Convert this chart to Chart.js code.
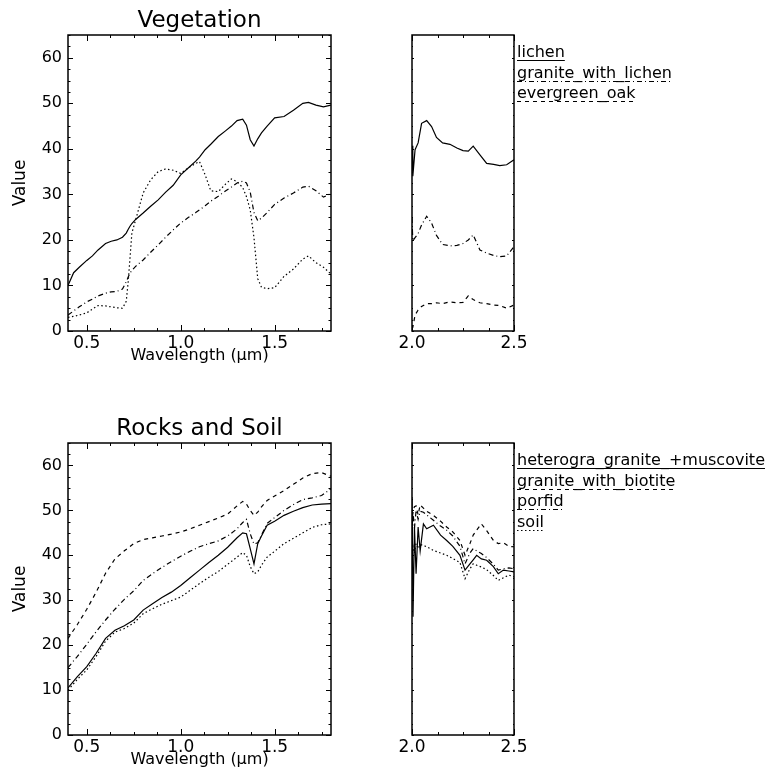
<!DOCTYPE html>
<html>
<head>
<meta charset="utf-8">
<script src="https://cdn.jsdelivr.net/npm/chart.js@4.4.1/dist/chart.umd.min.js"></script>
<style>
  html, body { margin: 0; padding: 0; background: #fff; }
  #page { position: relative; width: 781px; height: 778px; overflow: hidden; }
  canvas { position: absolute; }
</style>
</head>
<body>
<div id="page">
  <canvas id="vegVis" width="345" height="370" style="left:0;top:0"></canvas>
  <canvas id="vegSwir" width="400" height="370" style="left:380px;top:0"></canvas>
  <canvas id="rockVis" width="345" height="384" style="left:0;top:390px"></canvas>
  <canvas id="rockSwir" width="400" height="384" style="left:380px;top:390px"></canvas>
</div>
<script>
// =============================
// Data
// =============================
const visXTicks = [0.5, 1.0, 1.5];
const swirXTicks = [2.0, 2.5];
const valueTicks = [0, 10, 20, 30, 40, 50, 60];

const vegNames = ["lichen", "granite_with_lichen", "evergreen_oak"];
const rockNames = ["heterogra_granite_+muscovite", "granite_with_biotite", "porfid", "soil"];

// Vegetation, 0.4 - 1.8 um
const vegVisWl = [0.40, 0.43, 0.46, 0.50, 0.53, 0.56, 0.60, 0.63, 0.66, 0.69,
  0.71, 0.72, 0.73, 0.74, 0.76, 0.80, 0.84, 0.88, 0.92, 0.96,
  1.00, 1.04, 1.08, 1.10, 1.13, 1.16, 1.20, 1.24, 1.27, 1.30,
  1.33, 1.35, 1.37, 1.39, 1.41, 1.43, 1.46, 1.50, 1.55, 1.60,
  1.65, 1.68, 1.72, 1.76, 1.80];
const vegLichen = [10.0, 12.8, 14.0, 15.5, 16.5, 17.8, 19.2, 19.7, 20.0, 20.6,
  21.5, 22.3, 23.0, 23.6, 24.5, 25.9, 27.4, 28.8, 30.5, 32.0,
  34.3, 35.8, 37.3, 38.2, 39.8, 41.0, 42.7, 44.0, 45.0, 46.2,
  46.5, 45.2, 42.0, 40.6, 42.2, 43.5, 45.0, 46.8, 47.1, 48.5,
  50.0, 50.2, 49.6, 49.2, 49.6];
const vegGraniteLichen = [3.5, 4.4, 5.3, 6.4, 7.0, 7.7, 8.3, 8.6, 8.7, 9.2,
  10.8, 11.8, 12.7, 13.3, 14.2, 15.6, 17.3, 18.9, 20.6, 22.2,
  23.7, 24.9, 26.0, 26.6, 27.5, 28.5, 29.6, 30.8, 31.6, 32.5,
  32.9, 32.5, 30.5, 26.0, 24.2, 24.8, 26.0, 27.8, 29.2, 30.3,
  31.6, 31.8, 30.8, 29.4, 30.2];
const vegOak = [3.0, 3.2, 3.5, 4.0, 4.8, 5.6, 5.5, 5.3, 5.1, 5.0,
  6.5, 10.6, 16.0, 21.5, 24.4, 30.3, 33.2, 35.0, 35.6, 35.3,
  34.6, 35.8, 36.8, 37.2, 34.3, 30.8, 30.6, 32.3, 33.4, 32.8,
  31.5, 29.5, 26.6, 20.5, 11.5, 9.6, 9.3, 9.5, 12.0, 13.6,
  15.8, 16.5, 15.0, 14.0, 12.5];

// Vegetation, 2.0 - 2.5 um
const vegSwirWl = [2.000, 2.004, 2.015, 2.030, 2.047, 2.072, 2.096, 2.120, 2.150, 2.186,
  2.220, 2.250, 2.276, 2.300, 2.333, 2.366, 2.400, 2.430, 2.464, 2.500];
const swirLichen = [40.7, 34.0, 39.8, 41.3, 45.6, 46.2, 44.9, 42.5, 41.3, 41.0,
  40.2, 39.6, 39.5, 40.6, 38.7, 36.8, 36.6, 36.3, 36.5, 37.6];
const swirGraniteLichen = [24.8, 19.8, 20.5, 21.4, 23.3, 25.2, 23.7, 21.0, 19.0, 18.7,
  18.8, 19.2, 20.0, 21.1, 17.8, 17.1, 16.6, 16.3, 16.5, 18.5];
const swirOak = [0.5, 0.8, 3.5, 4.6, 5.4, 6.0, 6.0, 6.2, 6.0, 6.4,
  6.2, 6.3, 7.7, 6.9, 6.2, 6.0, 5.7, 5.6, 5.0, 5.7];

// Rocks and soil, 0.4 - 1.8 um
const rockVisWl = [0.40, 0.45, 0.50, 0.55, 0.60, 0.65, 0.70, 0.75, 0.80, 0.85,
  0.90, 0.95, 1.00, 1.05, 1.10, 1.15, 1.20, 1.25, 1.30, 1.33,
  1.35, 1.37, 1.39, 1.41, 1.43, 1.46, 1.50, 1.55, 1.60, 1.65,
  1.70, 1.75, 1.80];
const rockMuscovite = [10.5, 13.0, 15.2, 18.2, 21.5, 23.3, 24.3, 25.6, 27.8, 29.2,
  30.6, 31.8, 33.3, 35.0, 36.7, 38.4, 40.0, 41.8, 43.9, 45.0,
  44.8, 41.5, 38.1, 42.6, 44.3, 46.7, 47.6, 48.9, 49.8, 50.6,
  51.2, 51.4, 51.5];
const rockBiotite = [21.5, 24.6, 28.0, 31.8, 36.0, 39.2, 41.0, 42.6, 43.5, 43.9,
  44.3, 44.7, 45.2, 45.9, 46.7, 47.5, 48.3, 49.2, 51.0, 52.0,
  51.4, 50.0, 48.9, 49.6, 50.8, 52.2, 53.2, 54.4, 55.8, 57.2,
  58.2, 58.4, 57.6];
const rockPorfid = [15.0, 17.5, 20.2, 23.0, 25.6, 28.0, 30.2, 32.1, 34.4, 35.9,
  37.3, 38.6, 39.8, 40.9, 41.9, 42.6, 43.2, 44.3, 45.9, 47.3,
  48.0, 44.8, 42.5, 42.8, 44.5, 47.1, 48.4, 50.0, 51.3, 52.4,
  52.8, 53.3, 54.8];
const rockSoil = [10.0, 12.4, 14.5, 17.5, 20.9, 22.9, 23.7, 24.9, 27.0, 28.1,
  29.1, 29.9, 30.7, 32.2, 33.7, 35.1, 36.4, 38.0, 39.6, 40.6,
  40.0, 37.5, 35.9, 36.3, 37.8, 39.6, 40.9, 42.6, 43.8, 45.0,
  46.2, 46.8, 47.0];

// Rocks and soil, 2.0 - 2.5 um
const rockSwirWl = [2.000, 2.005, 2.012, 2.020, 2.030, 2.040, 2.056, 2.072, 2.105, 2.140,
  2.170, 2.200, 2.235, 2.260, 2.284, 2.300, 2.317, 2.340, 2.366, 2.399,
  2.423, 2.448, 2.475, 2.500];
const swirMuscovite = [53.0, 26.3, 46.3, 35.9, 46.3, 41.0, 47.0, 45.9, 46.7, 44.5,
  43.3, 42.0, 40.0, 36.7, 38.1, 39.0, 40.0, 39.2, 38.9, 37.5,
  35.9, 36.7, 36.5, 36.3];
const swirBiotite = [47.0, 50.0, 50.8, 51.0, 49.0, 51.2, 50.5, 49.8, 48.9, 47.6,
  46.3, 45.2, 43.3, 40.0, 42.6, 44.5, 45.6, 47.0, 45.5, 43.3,
  42.6, 42.8, 42.0, 41.9];
const swirPorfid = [45.0, 49.5, 46.0, 50.0, 48.0, 49.8, 49.6, 49.0, 47.8, 46.5,
  45.6, 44.3, 42.0, 38.1, 40.5, 41.5, 41.0, 40.4, 39.5, 38.0,
  36.7, 37.0, 37.2, 37.0];
const swirSoil = [40.0, 42.0, 40.5, 42.6, 41.5, 42.4, 42.2, 41.9, 41.1, 40.5,
  40.0, 39.3, 38.4, 34.8, 37.0, 38.1, 37.8, 37.4, 36.8, 35.5,
  34.4, 35.0, 35.6, 35.2];

// line styles (IDL-like)
const SOLID = [];
const DASHED = [4, 4];
const DASHDOT = [5, 3, 1, 3];
const DOTTED = [1.5, 2.5];

const FONT = "'DejaVu Sans', sans-serif";

// =============================
// Frame plugin: box, inward ticks, title, underlined legend
// =============================
const idlFrame = {
  id: "idlFrame",
  afterDatasetsDraw(chart, args, opts) {
    const { ctx, chartArea: a, scales: { x, y } } = chart;
    ctx.save();
    ctx.strokeStyle = "#000";
    ctx.fillStyle = "#000";

    // x ticks, bottom and top
    const xLen = opts.xTickLen || 6;
    const yLen = opts.yTickLen || 5;
    ctx.lineWidth = 1;
    ctx.beginPath();
    const xStep = opts.xMinor;
    for (let v = Math.ceil(x.min / xStep - 1e-6) * xStep; v <= x.max + 1e-6; v += xStep) {
      const major = opts.xMajor.some(m => Math.abs(m - v) < 1e-6);
      const len = major ? xLen : xLen / 2;
      const px = Math.round(x.getPixelForValue(v)) + 0.5;
      ctx.moveTo(px, a.bottom); ctx.lineTo(px, a.bottom - len);
      ctx.moveTo(px, a.top); ctx.lineTo(px, a.top + len);
    }
    // y ticks, left and right
    const yStep = 2.5;
    for (let v = 0; v <= y.max + 1e-6; v += yStep) {
      const major = valueTicks.includes(v);
      const len = major ? yLen : yLen / 2;
      const py = Math.round(y.getPixelForValue(v)) + 0.5;
      ctx.moveTo(a.left, py); ctx.lineTo(a.left + len, py);
      ctx.moveTo(a.right, py); ctx.lineTo(a.right - len, py);
    }
    ctx.stroke();

    // box
    ctx.lineWidth = 1.5;
    ctx.strokeRect(a.left, a.top, a.right - a.left, a.bottom - a.top);

    // title
    if (opts.title) {
      ctx.font = "23px " + FONT;
      ctx.textAlign = "center";
      ctx.textBaseline = "alphabetic";
      ctx.fillText(opts.title, (a.left + a.right) / 2, a.top - 8);
    }

    // legend: text underlined in the series' line style
    if (opts.legend) {
      ctx.font = "16px " + FONT;
      ctx.textAlign = "left";
      ctx.textBaseline = "alphabetic";
      ctx.lineWidth = 1;
      chart.data.datasets.forEach((ds, i) => {
        const tx = a.right + 3;
        const ty = a.top + 22 + i * 20.5;
        ctx.fillText(ds.label, tx, ty);
        const w = ctx.measureText(ds.label).width;
        ctx.setLineDash(ds.borderDash || []);
        ctx.beginPath();
        ctx.moveTo(tx, Math.round(ty + 3) + 0.5);
        ctx.lineTo(tx + w, Math.round(ty + 3) + 0.5);
        ctx.stroke();
        ctx.setLineDash([]);
      });
    }
    ctx.restore();
  }
};

function series(label, wl, vals, dash) {
  return {
    label: label,
    data: wl.map((w, i) => ({ x: w, y: vals[i] })),
    borderColor: "#000",
    borderWidth: 1.2,
    borderDash: dash,
    pointRadius: 0,
    fill: false,
    tension: 0
  };
}

function makePanel(id, datasets, o) {
  const ctx = document.getElementById(id);
  return new Chart(ctx, {
    type: "line",
    data: { datasets: datasets },
    options: {
      responsive: false,
      animation: false,
      devicePixelRatio: 1,
      layout: { padding: o.padding },
      plugins: {
        legend: { display: false },
        tooltip: { enabled: false },
        idlFrame: {
          title: o.title,
          legend: o.legend,
          xMajor: o.xTicks,
          xMinor: 0.125,
          xTickLen: 6,
          yTickLen: o.showY ? 5 : 2
        }
      },
      scales: {
        x: {
          type: "linear",
          min: o.xMin,
          max: o.xMax,
          grid: { display: false, drawTicks: false },
          border: { display: false },
          afterBuildTicks: scale => { scale.ticks = o.xTicks.map(v => ({ value: v })); },
          afterFit: scale => { scale.height = 39; },
          ticks: {
            color: "#000",
            font: { family: FONT, size: 17 },
            padding: 2,
            maxRotation: 0,
            autoSkip: false,
            callback: v => v.toFixed(1)
          },
          title: {
            display: o.showY,
            text: "Wavelength (\u03bcm)",
            color: "#000",
            font: { family: FONT, size: 16 },
            padding: { top: 0, bottom: 5 }
          }
        },
        y: {
          type: "linear",
          min: 0,
          max: 65,
          display: o.showY,
          grid: { display: false, drawTicks: false },
          border: { display: false },
          afterBuildTicks: scale => { scale.ticks = valueTicks.map(v => ({ value: v })); },
          afterFit: scale => { scale.width = o.showY ? 68 : 0; },
          ticks: {
            color: "#000",
            font: { family: FONT, size: 16 },
            padding: 6,
            callback: v => String(v)
          },
          title: {
            display: true,
            text: "Value",
            color: "#000",
            font: { family: FONT, size: 17 },
            padding: { top: 10, bottom: 0 }
          }
        }
      }
    },
    plugins: [idlFrame]
  });
}

// =============================
// Panels
// =============================
makePanel("vegVis", [
  series(vegNames[0], vegVisWl, vegLichen, SOLID),
  series(vegNames[1], vegVisWl, vegGraniteLichen, DASHDOT),
  series(vegNames[2], vegVisWl, vegOak, DOTTED)
], { title: "Vegetation", xMin: 0.4, xMax: 1.8, xTicks: visXTicks, showY: true,
     padding: { top: 35, left: 0, right: 14, bottom: 0 } });

makePanel("vegSwir", [
  series(vegNames[0], vegSwirWl, swirLichen, SOLID),
  series(vegNames[1], vegSwirWl, swirGraniteLichen, DASHDOT),
  series(vegNames[2], vegSwirWl, swirOak, DASHED)
], { legend: true, xMin: 2.0, xMax: 2.5, xTicks: swirXTicks, showY: false,
     padding: { top: 35, left: 32, right: 266, bottom: 0 } });

makePanel("rockVis", [
  series(rockNames[0], rockVisWl, rockMuscovite, SOLID),
  series(rockNames[1], rockVisWl, rockBiotite, DASHED),
  series(rockNames[2], rockVisWl, rockPorfid, DASHDOT),
  series(rockNames[3], rockVisWl, rockSoil, DOTTED)
], { title: "Rocks and Soil", xMin: 0.4, xMax: 1.8, xTicks: visXTicks, showY: true,
     padding: { top: 53, left: 0, right: 14, bottom: 0 } });

makePanel("rockSwir", [
  series(rockNames[0], rockSwirWl, swirMuscovite, SOLID),
  series(rockNames[1], rockSwirWl, swirBiotite, DASHED),
  series(rockNames[2], rockSwirWl, swirPorfid, DASHDOT),
  series(rockNames[3], rockSwirWl, swirSoil, DOTTED)
], { legend: true, xMin: 2.0, xMax: 2.5, xTicks: swirXTicks, showY: false,
     padding: { top: 53, left: 32, right: 266, bottom: 0 } });
</script>
</body>
</html>
